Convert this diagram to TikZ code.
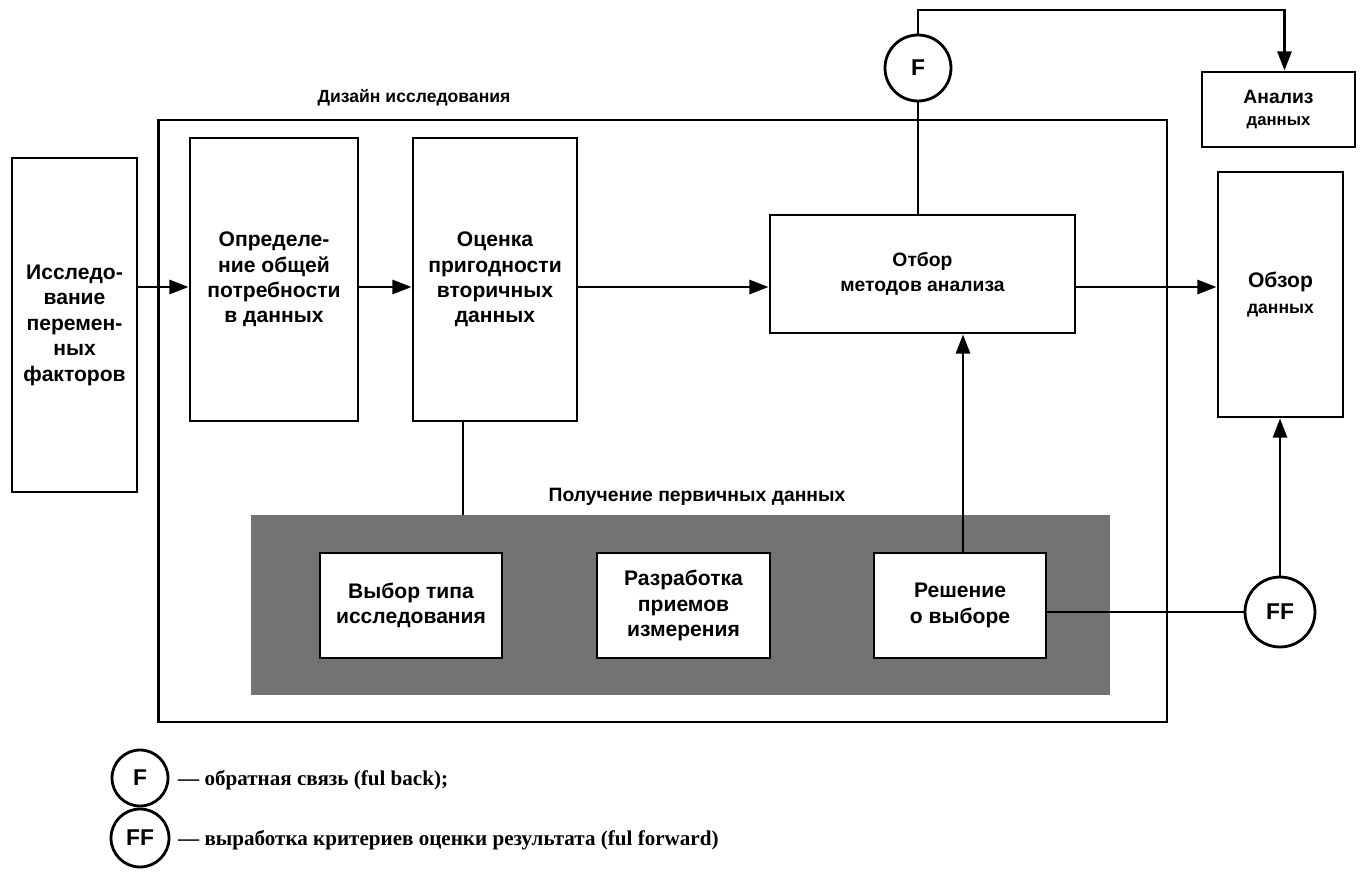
\documentclass[tikz,border=0pt]{standalone}
\usepackage{fontspec}
\setmainfont{Liberation Serif}
\setsansfont{Liberation Sans}
\usetikzlibrary{arrows.meta}

\tikzset{
	blk/.style={draw, line width=1.6pt, fill=white, align=center, inner sep=0pt,
		font=\sffamily\bfseries\fontsize{12}{14.5}\selectfont},
	sig/.style={draw, circle, line width=1.6pt, fill=white, inner sep=0pt,
		font=\sffamily\bfseries\fontsize{13}{15}\selectfont},
	ln/.style={line width=1.6pt},
	arr/.style={line width=1.6pt, -{Triangle[length=11pt,width=8pt]}},
	lbl/.style={font=\sffamily\bfseries\fontsize{10}{12}\selectfont},
	legtxt/.style={anchor=west, font=\rmfamily\bfseries\fontsize{12}{14}\selectfont},
}

\begin{document}
\begin{tikzpicture}[x=0.02cm,y=-0.02cm]
		\useasboundingbox (0,0) rectangle (1363,872);
		% outer frames
		\node[draw, line width=1.6pt, minimum width=20.18cm, minimum height=12.04cm] (design) at (662.5,421) {};
		\node[lbl] (designlbl) at (414,98) {Дизайн исследования};
		\node[fill=black!55, minimum width=17.18cm, minimum height=3.6cm] (shade) at (680.5,605) {};
		\node[lbl, font=\sffamily\bfseries\fontsize{11}{13}\selectfont] (shadelbl) at (697,497) {Получение первичных данных};
		% blocks
		\node[blk, minimum width=2.5cm, minimum height=6.68cm] (factors) at (74.5,325) {Исследо-\\вание\\перемен-\\ных\\факторов};
		\node[blk, minimum width=3.36cm, minimum height=5.66cm] (need) at (274,279.5) {Определе-\\ние общей\\потребности\\в данных};
		\node[blk, minimum width=3.28cm, minimum height=5.66cm] (second) at (495,279.5) {Оценка\\пригодности\\вторичных\\данных};
		\node[blk, minimum width=6.1cm, minimum height=2.36cm, font=\sffamily\bfseries\fontsize{11}{14}\selectfont] (methods) at (922.5,274) {Отбор\\методов анализа};
		\node[blk, minimum width=3.06cm, minimum height=1.5cm, font=\sffamily\bfseries\fontsize{11}{13}\selectfont] (analysis) at (1278.5,109.5) {Анализ\\{\fontsize{9.5}{11}\selectfont данных}};
		\node[blk, minimum width=2.5cm, minimum height=4.9cm] (review) at (1280.5,294.5) {Обзор\\{\fontsize{10}{12}\selectfont данных}};
		\node[blk, minimum width=3.64cm, minimum height=2.1cm] (type) at (411,605.5) {Выбор типа\\исследования};
		\node[blk, minimum width=3.46cm, minimum height=2.1cm] (measure) at (683.5,605.5) {Разработка\\приемов\\измерения};
		\node[blk, minimum width=3.44cm, minimum height=2.1cm] (choice) at (960,605.5) {Решение\\о выборе};
		\node[sig, minimum size=1.32cm] (fb) at (918,68) {F};
		\node[sig, minimum size=1.4cm] (ff) at (1280,612) {FF};
		\coordinate (arrline) at (0,287);
		\coordinate (fbtop) at (918,10);
		% connectors
		\draw[arr] (factors.east |- arrline) -- (need.west |- arrline);
		\draw[arr] (need.east |- arrline) -- (second.west |- arrline);
		\draw[arr] (second.east |- arrline) -- (methods.west |- arrline);
		\draw[arr] (methods.east |- arrline) -- (review.west |- arrline);
		\draw[ln] (second.south -| 463,0) -- (shade.north -| 463,0);
		\draw[arr] (choice.north -| 963,0) -- (methods.south -| 963,0);
		\draw[ln] (fb.south) -- (fb.south |- methods.north);
		\draw[arr] (fb.north) -- (fbtop) -| ([xshift=0.12cm]analysis.north);
		\draw[ln] (choice.east |- ff.west) -- (ff.west);
		\draw[arr] (ff.north) -- (ff.north |- review.south);
		% legend
		\node[sig, minimum size=1.12cm] (legf) at (140,778) {F};
		\node[sig, minimum size=1.16cm] (legff) at (140,838) {FF};
		\node[legtxt] (legftxt) at (172,780) {--- обратная связь (ful back);};
		\node[legtxt] (legfftxt) at (172,840) {--- выработка критериев оценки результата (ful forward)};
	\end{tikzpicture}
\end{document}
